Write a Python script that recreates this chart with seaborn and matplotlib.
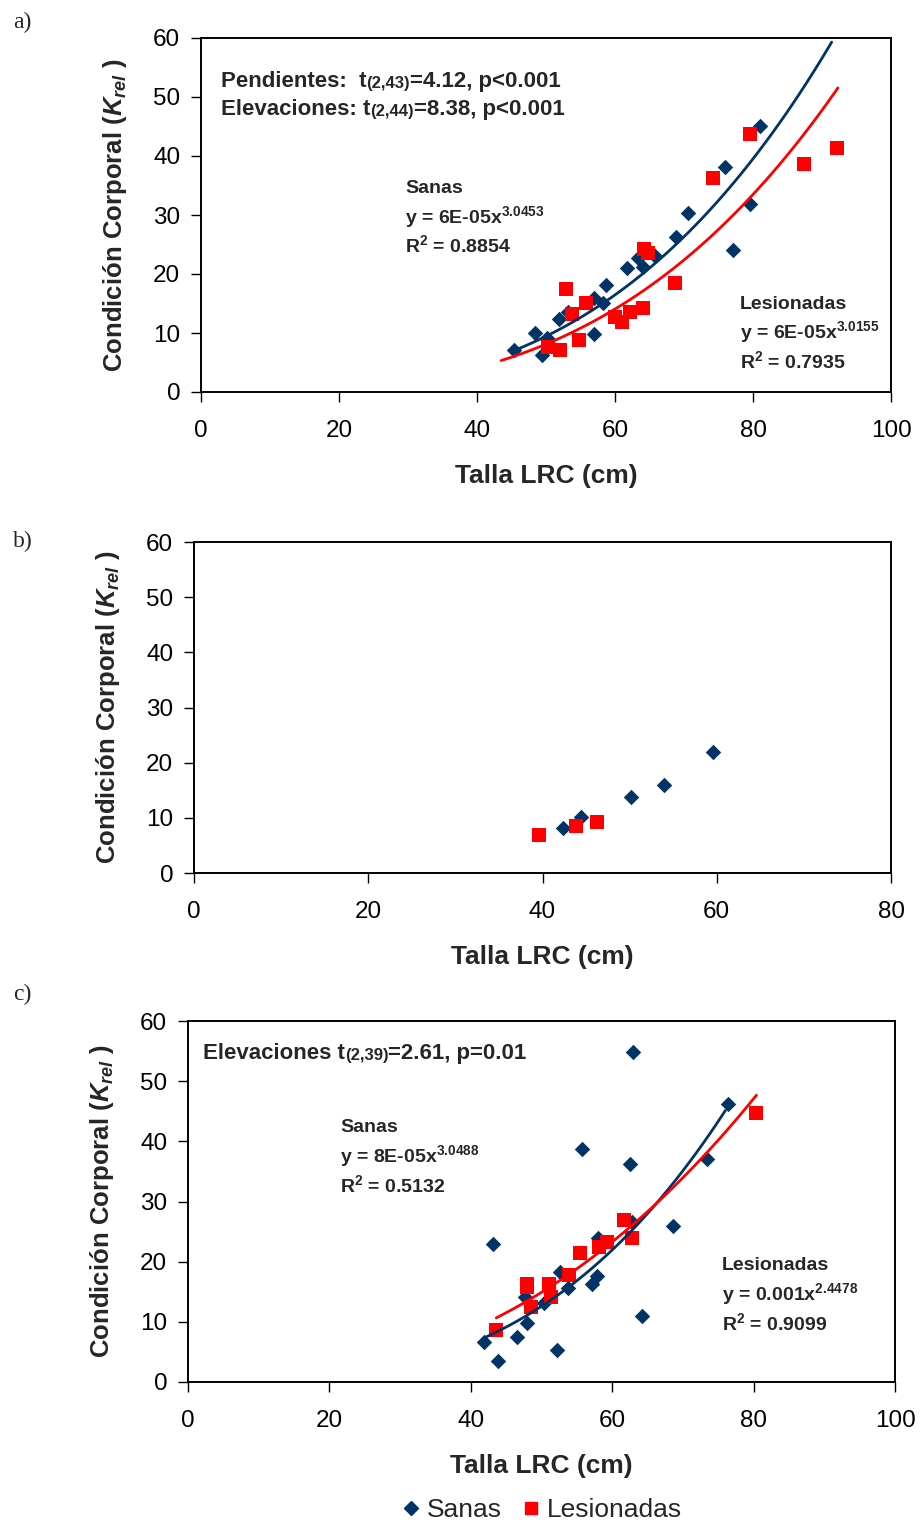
import matplotlib
matplotlib.use("Agg")
import matplotlib.pyplot as plt
from matplotlib.lines import Line2D
import seaborn as sns
import numpy as np

# ---------------- data ----------------
a_sanas_x = [45.3, 48.4, 49.4, 50.1, 51.9, 53.2, 56.9, 56.9, 58.3, 58.7, 61.7, 63.4, 64.0, 65.6, 68.9, 70.6, 75.9, 77.1, 79.5, 81.0]
a_sanas_y = [7.2, 10.0, 6.3, 9.2, 12.3, 13.6, 15.9, 9.9, 15.0, 18.1, 21.0, 22.7, 21.2, 23.2, 26.3, 30.3, 38.1, 24.1, 31.8, 45.0]
a_les_x = [50.3, 52.0, 52.9, 53.7, 54.8, 55.8, 60.0, 61.0, 62.2, 64.0, 64.2, 64.8, 68.7, 74.2, 79.5, 87.4, 92.2]
a_les_y = [7.6, 7.2, 17.4, 13.2, 8.8, 15.1, 12.7, 11.9, 13.6, 14.3, 24.3, 23.6, 18.5, 36.2, 43.8, 38.6, 41.3]

b_sanas_x = [42.4, 44.4, 50.2, 53.9, 59.6]
b_sanas_y = [8.1, 10.2, 13.8, 15.9, 21.9]
b_les_x = [39.6, 43.8, 46.3]
b_les_y = [6.8, 8.6, 9.2]

c_sanas_x = [41.8, 43.2, 43.9, 46.5, 47.7, 47.9, 50.3, 52.2, 52.6, 53.8, 55.7, 57.1, 57.8, 58.0, 62.5, 62.8, 63.0, 64.2, 68.6, 73.4, 76.4]
c_sanas_y = [6.6, 22.9, 3.5, 7.5, 14.2, 9.8, 13.1, 5.3, 18.3, 15.7, 38.7, 16.3, 17.6, 23.9, 36.2, 26.6, 54.8, 11.0, 25.9, 37.0, 46.2]
c_les_x = [43.6, 47.9, 47.9, 48.5, 51.1, 51.4, 53.9, 55.5, 58.2, 59.2, 61.6, 62.8, 80.3]
c_les_y = [8.6, 16.3, 15.8, 12.4, 16.3, 14.2, 17.8, 21.5, 22.4, 23.3, 26.9, 23.9, 44.7]

# power trendlines y = coef * x ** expo  (Sanas, Lesionadas)
a_fit_coef = [6.33e-5, 6.11e-5]
a_fit_expo = [3.0453, 3.0155]
a_fit_range = [(45.5, 91.4), (43.5, 92.3)]
c_fit_coef = [8.32e-5, 1.034e-3]
c_fit_expo = [3.0488, 2.4478]
c_fit_range = [(42.0, 76.0), (43.6, 80.4)]

a_eq_sanas = ["Sanas", "y = 6E-05x$^{3.0453}$", "R$^{2}$ = 0.8854"]
a_eq_les = ["Lesionadas", "y = 6E-05x$^{3.0155}$", "R$^{2}$ = 0.7935"]
c_eq_sanas = ["Sanas", "y = 8E-05x$^{3.0488}$", "R$^{2}$ = 0.5132"]
c_eq_les = ["Lesionadas", "y = 0.001x$^{2.4478}$", "R$^{2}$ = 0.9099"]

series_labels = ["Sanas", "Lesionadas"]
x_label = "Talla LRC (cm)"
y_label = "Condición Corporal ($K_{rel}$ )"

BLUE = "#003366"
RED = "#FF0000"

# ---------------- style ----------------
sns.set_style("ticks")
plt.rcParams["font.family"] = ["Liberation Sans", "DejaVu Sans"]
plt.rcParams["mathtext.fontset"] = "custom"
plt.rcParams["mathtext.rm"] = "Liberation Sans:bold"
plt.rcParams["mathtext.it"] = "Liberation Sans:italic:bold"
plt.rcParams["mathtext.bf"] = "Liberation Sans:bold"

fig = plt.figure(figsize=(9.22, 15.23), dpi=100)
W, H = 922.0, 1523.0


def make_ax(l, r, t, b):
    return fig.add_axes([l / W, 1 - b / H, (r - l) / W, (b - t) / H])


axA = make_ax(201, 891, 38, 392)
axB = make_ax(194, 891, 542, 873)
axC = make_ax(188, 895, 1021, 1382)


def style_ax(ax, xmax):
    ax.set_xlim(0, xmax)
    ax.set_ylim(0, 60)
    ax.set_xticks(np.arange(0, xmax + 1, 20))
    ax.set_yticks(np.arange(0, 61, 10))
    for s in ax.spines.values():
        s.set_visible(True)
        s.set_linewidth(1.4)
        s.set_color("black")
    ax.tick_params(axis="both", direction="out", length=7, width=1.0,
                   labelsize=17.5, colors="black")
    ax.tick_params(axis="x", pad=13)
    ax.tick_params(axis="y", pad=8)
    ax.set_xlabel(x_label, fontsize=19, fontweight="bold", labelpad=16)
    ax.set_ylabel(y_label, fontsize=18.5, fontweight="bold", labelpad=17)


def scatter(ax, sx, sy, lx, ly):
    sns.scatterplot(x=sx, y=sy, ax=ax, marker="D", s=62, color=BLUE,
                    linewidth=0, zorder=3)
    sns.scatterplot(x=lx, y=ly, ax=ax, marker="s", s=95, color=RED,
                    linewidth=0, zorder=3)


def trend(ax, coefs, expos, ranges):
    for coef, expo, (lo, hi), col in zip(coefs, expos, ranges, [BLUE, RED]):
        xs = np.linspace(lo, hi, 120)
        sns.lineplot(x=xs, y=coef * xs ** expo, ax=ax, color=col, lw=2.0,
                     zorder=4)


def rich(ax, x, y, pieces):
    first = ax.text(x, y, pieces[0][0], fontsize=pieces[0][1], fontweight="bold",
                    va="baseline", ha="left")
    big = pieces[0][1]
    prev = first
    for s, sz in pieces[1:]:
        # compensate descent difference so baselines line up
        dy = 0.215 * (big - sz)
        prev = ax.annotate(s, xy=(1, 0), xycoords=(prev, first), fontsize=sz,
                           xytext=(0, dy), textcoords="offset points",
                           fontweight="bold", va="bottom", ha="left")


def eq_block(ax, x, y0, dy, lines):
    for i, s in enumerate(lines):
        ax.text(x, y0 - i * dy, s, fontsize=14, fontweight="bold",
                va="baseline", ha="left")


# panel a
scatter(axA, a_sanas_x, a_sanas_y, a_les_x, a_les_y)
trend(axA, a_fit_coef, a_fit_expo, a_fit_range)
style_ax(axA, 100)
rich(axA, 2.9, 51.7, [("Pendientes:  t", 16), ("(2,43)", 12), ("=4.12, p<0.001", 16)])
rich(axA, 2.9, 46.9, [("Elevaciones: t", 16), ("(2,44)", 12), ("=8.38, p<0.001", 16)])
eq_block(axA, 29.6, 33.7, 5.0, a_eq_sanas)
eq_block(axA, 78.1, 14.1, 5.0, a_eq_les)

# panel b
scatter(axB, b_sanas_x, b_sanas_y, b_les_x, b_les_y)
style_ax(axB, 80)

# panel c
scatter(axC, c_sanas_x, c_sanas_y, c_les_x, c_les_y)
trend(axC, c_fit_coef, c_fit_expo, c_fit_range)
style_ax(axC, 100)
rich(axC, 2.1, 53.7, [("Elevaciones t", 16), ("(2,39)", 12), ("=2.61, p=0.01", 16)])
eq_block(axC, 21.5, 41.5, 4.95, c_eq_sanas)
eq_block(axC, 75.5, 18.6, 4.95, c_eq_les)

for ax in (axA, axB, axC):
    if ax.get_legend() is not None:
        ax.get_legend().remove()

# panel letters
for lab, ypx in [("a)", 22), ("b)", 541), ("c)", 994)]:
    fig.text(13 / W, 1 - ypx / H, lab, family=["Liberation Serif", "DejaVu Serif"],
             fontsize=17, va="center", ha="left")

# legend
handles = [Line2D([], [], marker="D", ls="", color=BLUE, markersize=7.5),
           Line2D([], [], marker="s", ls="", color=RED, markersize=9)]
fig.legend(handles, series_labels, loc="center", bbox_to_anchor=(540 / W, 1 - 1510 / H),
           ncol=2, frameon=False, fontsize=19, handletextpad=0.1,
           columnspacing=0.6, handlelength=1.0)

fig.savefig("out.png", dpi=100)
